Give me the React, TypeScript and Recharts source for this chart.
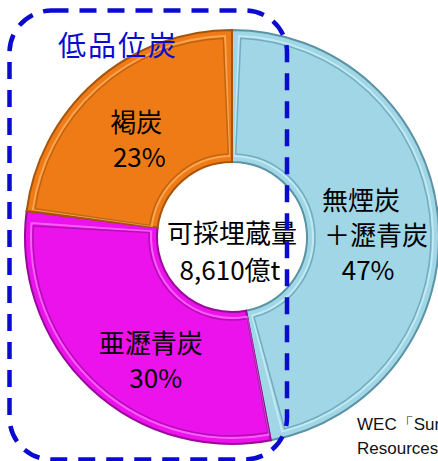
import React from 'react';
import { PieChart, Pie, Cell } from 'recharts';

// ---- data ----
const categories = ['無煙炭＋瀝青炭', '亜瀝青炭', '褐炭'];
const shares = [47, 30, 23];
const labelLines = [['無煙炭', '＋瀝青炭'], ['亜瀝青炭'], ['褐炭']];
const centerLines = ['可採埋蔵量', '8,610億t'];
const groupLabel = '低品位炭';
const sourceLines = ['WEC「Survey of Energy', 'Resources 2010」'];

const data = categories.map((name, i) => ({ name, value: shares[i] }));

// ---- styles ----
const FILLS = ['#a0d6e5', '#eb12eb', '#ef7b16'];
const EDGES = ['#5a93a4', '#980a98', '#a5540b'];
const INNER = ['#6aa5b6', '#aa0eaa', '#b55f0e'];
const HIGHLIGHT = ['#c8eef8', '#ff70ff', '#ffb060'];
const FONT = "'Noto Sans CJK JP', 'Noto Sans', sans-serif";

const W = 438;
const H = 461;
const CX = 232;
const CY = 237;
const OR = 207;
const IR = 75;

// per-label line offsets relative to the slice's mid point [dx, dy] for each line
const LINE_OFFSETS: number[][][] = [
  [[-11, -11], [4, 24], [-4, 59]],
  [[12, 10], [17, 45]],
  [[-1, -1], [2, 34]],
];

const RADIAN = Math.PI / 180;

const renderLabel = (props: any) => {
  const { cx, cy, midAngle, innerRadius, outerRadius, index, value } = props;
  const r = (innerRadius + outerRadius) / 2;
  const x = cx + r * Math.cos(-midAngle * RADIAN);
  const y = cy + r * Math.sin(-midAngle * RADIAN);
  const lines = [...labelLines[index], `${value}%`];
  const offs = LINE_OFFSETS[index];
  return (
    <g key={`lbl-${index}`}>
      {lines.map((t, j) => (
        <text
          key={j}
          x={x + offs[j][0]}
          y={y + offs[j][1]}
          textAnchor="middle"
          fontFamily={FONT}
          fontSize={26}
          fill="#000"
        >
          {t}
        </text>
      ))}
    </g>
  );
};

export default function App() {
  return (
    <div style={{ position: 'absolute', left: 0, top: 0, width: W, height: H, overflow: 'hidden', background: '#fff' }}>
      <PieChart width={W} height={H} margin={{ top: 0, right: 0, bottom: 0, left: 0 }}>
        <Pie
          data={data}
          dataKey="value"
          cx={CX}
          cy={CY}
          innerRadius={IR}
          outerRadius={OR}
          startAngle={90}
          endAngle={-270}
          stroke="none"
          isAnimationActive={false}
          labelLine={false}
        >
          {data.map((d, i) => (
            <Cell key={d.name} fill={FILLS[i]} stroke={EDGES[i]} strokeWidth={2} />
          ))}
        </Pie>
        <Pie
          data={data}
          dataKey="value"
          cx={CX}
          cy={CY}
          innerRadius={IR + 6}
          outerRadius={OR - 6}
          startAngle={88}
          endAngle={-272}
          paddingAngle={4}
          isAnimationActive={false}
          labelLine={false}
        >
          {data.map((d, i) => (
            <Cell key={d.name} fill="none" stroke={HIGHLIGHT[i]} strokeWidth={2} strokeOpacity={0.8} />
          ))}
        </Pie>
        <Pie
          data={data}
          dataKey="value"
          cx={CX}
          cy={CY}
          innerRadius={IR + 8}
          outerRadius={OR - 8}
          startAngle={87.5}
          endAngle={-272.5}
          paddingAngle={5}
          isAnimationActive={false}
          labelLine={false}
          label={renderLabel}
        >
          {data.map((d, i) => (
            <Cell key={d.name} fill="none" stroke={INNER[i]} strokeWidth={1.5} strokeOpacity={0.85} />
          ))}
        </Pie>
      </PieChart>
      <svg width={W} height={H} style={{ position: 'absolute', left: 0, top: 0, pointerEvents: 'none' }}>
        <text x={CX} y={243} textAnchor="middle" fontFamily={FONT} fontSize={26} fill="#000">
          {centerLines[0]}
        </text>
        <text x={CX - 2} y={280} textAnchor="middle" fontFamily={FONT} fontSize={26} fill="#000">
          {centerLines[1]}
        </text>
        <rect
          x={9.5}
          y={10.5}
          width={277.5}
          height={449}
          rx={42}
          ry={42}
          fill="none"
          stroke="#0a0ad0"
          strokeWidth={4.5}
          strokeDasharray="17 11"
        />
        <text x={118} y={56} textAnchor="middle" fontFamily={FONT} fontSize={28} letterSpacing={2} fill="#0a0ad0">
          {groupLabel}
        </text>
        <text x={357} y={430} fontFamily="'Liberation Sans', Arial, sans-serif" fontSize={17} fill="#111">
          {sourceLines[0]}
        </text>
        <text x={357} y={454} fontFamily="'Liberation Sans', Arial, sans-serif" fontSize={17} fill="#111">
          {sourceLines[1]}
        </text>
      </svg>
    </div>
  );
}
